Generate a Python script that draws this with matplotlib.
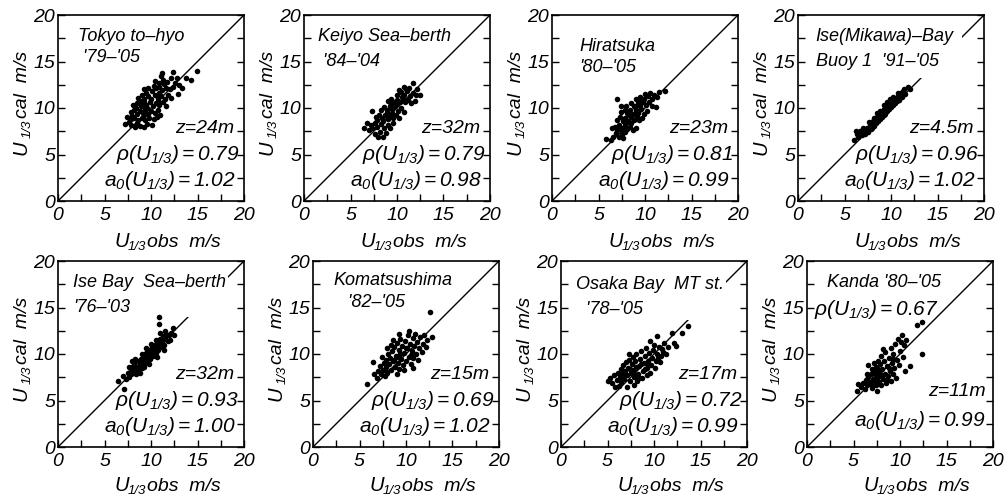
import numpy as np
import matplotlib
matplotlib.use("Agg")
import matplotlib.pyplot as plt
from matplotlib.ticker import MultipleLocator

plt.rcParams["font.family"] = ["Liberation Sans", "DejaVu Sans"]
plt.rcParams["font.style"] = "italic"
plt.rcParams["mathtext.fontset"] = "custom"
plt.rcParams["mathtext.rm"] = "Liberation Sans:italic"
plt.rcParams["mathtext.it"] = "Liberation Sans:italic"
plt.rcParams["mathtext.sf"] = "Liberation Sans:italic"

# station info
stations = ["Tokyo to\u2013hyo", "Keiyo Sea\u2013berth", "Hiratsuka", "Ise(Mikawa)\u2013Bay",
            "Ise Bay  Sea\u2013berth", "Komatsushima", "Osaka Bay  MT st.", "Kanda '80\u2013'05"]
periods = [" '79\u2013'05", " '84\u2013'04", "'80\u2013'05", "Buoy 1  '91\u2013'05",
           "'76\u2013'03", "   '82\u2013'05", "  '78\u2013'05", None]
heights = ["24", "32", "23", "4.5", "32", "15", "17", "11"]
rho = [0.79, 0.79, 0.81, 0.96, 0.93, 0.69, 0.72, 0.67]
a0 = [1.02, 0.98, 0.99, 1.02, 1.00, 1.02, 0.99, 0.99]

# (U1/3 obs, U1/3 cal) pairs, m/s
tokyo = [(7.2,8.3),(7.9,8.2),(8.3,8.0),(8.8,8.1),(9.2,8.0),(9.6,8.3),(10.1,8.2),(8.5,8.4),(7.6,8.5),
         (7.8,8.8),(8.2,8.9),(8.6,8.7),(9.0,8.9),(9.4,8.7),(9.8,8.9),(10.3,8.8),(8.0,9.1),(9.2,9.2),(10.6,9.0),
         (7.9,9.6),(8.2,9.8),(8.5,9.4),(8.8,9.7),(9.1,9.5),(9.4,9.9),(9.7,9.4),(10.0,9.7),(10.4,9.5),(10.8,9.8),
         (11.0,9.3),(8.4,10.0),(9.6,10.0),(8.1,10.3),(8.5,10.5),(8.9,10.2),(9.2,10.6),(9.5,10.3),(9.9,10.6),
         (10.2,10.2),(10.5,10.5),(10.9,10.3),(11.3,10.6),(11.6,10.2),(8.8,10.7),(10.7,10.8),(8.6,11.1),(9.0,11.4),
         (9.3,11.0),(9.7,11.3),(10.0,11.0),(10.4,11.4),(10.7,11.1),(11.1,11.3),(11.5,11.0),(11.8,11.4),(12.1,11.1),
         (9.5,11.6),(10.9,11.6),(9.2,12.0),(9.7,12.2),(10.1,11.8),(10.5,12.1),(10.9,12.3),(11.2,11.9),(11.6,12.2),
         (12.0,12.0),(12.4,12.3),(10.3,12.4),(11.4,12.6),(10.4,12.9),(10.9,12.7),(11.3,13.0),(11.7,12.8),
         (12.1,13.2),(12.6,12.7),(13.0,12.5),(11.1,13.4),(12.8,13.2),(11.2,13.8),(12.4,13.9),(13.8,13.2),
         (14.3,13.0),(14.9,14.0),(13.3,12.2),(7.4,9.0),(12.9,11.5)]
keiyo = [(7.0,7.6),(7.6,7.2),(8.0,6.9),(8.5,6.9),(8.2,7.4),(7.3,7.8),(6.4,7.8),(8.8,7.3),(7.2,8.2),(7.6,8.4),
         (7.9,8.0),(8.3,8.3),(8.6,7.9),(9.0,8.2),(9.3,7.8),(7.8,8.7),(8.5,8.6),(9.6,8.4),(7.7,9.0),(8.1,9.2),
         (8.4,8.9),(8.7,9.3),(9.0,8.8),(9.3,9.1),(9.6,8.9),(9.9,9.3),(10.2,8.9),(8.9,9.5),(9.5,9.5),(8.3,9.8),
         (8.6,10.1),(8.9,9.8),(9.2,10.2),(9.5,9.9),(9.8,10.2),(10.1,9.7),(10.4,10.0),(10.7,9.6),(9.4,10.4),
         (10.0,10.4),(9.0,10.7),(9.4,11.0),(9.7,10.6),(10.0,10.9),(10.3,10.6),(10.6,11.0),(10.9,10.6),(11.2,10.9),
         (11.5,10.5),(10.5,11.2),(10.0,11.4),(10.4,11.7),(10.8,11.4),(11.1,11.8),(11.4,11.3),(11.7,11.6),
         (12.0,11.4),(11.0,12.0),(10.2,11.9),(11.3,12.2),(11.7,12.7),(12.1,12.0),(10.7,12.3),(7.3,9.7),
         (12.5,11.4),(6.8,8.4),(11.9,10.8)]
hiratsuka = [(5.8,6.7),(6.3,6.6),(6.6,6.9),(6.9,7.3),(7.2,6.9),(7.5,7.2),(7.0,7.7),(7.4,7.6),(7.8,7.4),(7.6,6.8),
             (6.8,8.0),(7.2,8.2),(7.5,7.9),(7.8,8.1),(8.1,7.7),(8.4,8.0),(8.7,7.6),(9.0,7.9),(7.9,8.4),(8.5,8.4),
             (7.0,8.7),(7.3,9.0),(7.6,8.6),(7.9,8.9),(8.2,8.6),(8.5,9.0),(8.8,8.7),(9.1,9.1),(9.4,8.7),(9.7,8.9),
             (8.3,9.2),(9.0,9.4),(7.4,9.6),(7.8,9.8),(8.1,9.5),(8.4,9.8),(8.7,9.4),(9.0,9.8),(9.3,9.5),(9.6,9.9),
             (9.9,9.4),(10.2,9.7),(8.9,10.1),(8.0,10.2),(8.5,10.5),(8.8,10.2),(9.2,10.5),(9.5,10.2),(9.8,10.6),
             (10.1,10.3),(10.4,10.6),(10.7,10.2),(9.6,10.8),(9.0,11.0),(9.5,11.2),(9.9,11.0),(10.3,11.3),(10.7,11.0),
             (11.0,11.4),(10.5,11.6),(11.3,11.2),(10.0,11.5),(11.5,11.7),(7.0,11.0),(12.1,11.8),(11.2,10.1),
             (6.5,7.8),(7.4,10.2)]
mikawa = [(6.0,6.6),(6.3,7.2),(6.5,6.9),(6.7,7.5),(6.9,7.1),(7.1,7.6),(7.2,7.2),(7.4,7.8),(7.5,7.4),(7.7,8.1),
          (7.8,7.7),(7.9,8.3),(8.0,7.9),(8.1,8.6),(8.2,8.1),(8.3,8.8),(8.4,8.4),(8.5,9.0),(8.6,8.6),(8.7,9.2),
          (8.8,8.8),(8.9,9.4),(9.0,9.0),(9.1,9.6),(9.2,9.2),(9.3,9.9),(9.4,9.4),(9.5,10.1),(9.6,9.7),(9.7,10.3),
          (9.8,9.9),(9.9,10.5),(10.0,10.1),(10.1,10.7),(10.2,10.3),(10.3,10.9),(10.4,10.5),(10.5,11.1),(10.6,10.8),
          (10.8,11.3),(10.9,10.9),(11.0,11.6),(11.2,11.2),(11.3,11.8),(11.5,11.5),(11.8,12.3),(11.4,12.0),
          (9.6,10.6),(8.2,8.9),(7.0,7.8),(6.2,7.5),(8.8,9.7),(10.2,11.2),(9.2,10.3),(7.6,8.5),(10.7,11.6),
          (9.9,11.0),(8.5,9.5),(12.0,12.0)]
isebay = [(6.5,7.1),(7.1,6.2),(7.0,7.6),(7.3,7.3),(7.5,8.0),(7.6,7.5),(7.8,8.3),(7.9,7.8),(8.0,8.6),(8.1,8.0),
          (8.2,8.9),(8.3,8.3),(8.4,7.8),(8.5,8.6),(8.6,9.2),(8.7,8.2),(8.8,8.9),(8.9,9.5),(9.0,8.5),(9.1,9.2),
          (9.2,9.8),(9.3,8.9),(9.4,9.5),(9.5,10.1),(9.6,9.2),(9.7,9.8),(9.8,10.4),(9.9,9.5),(10.0,10.1),(10.1,10.7),
          (10.2,9.8),(10.3,10.4),(10.4,11.0),(10.5,10.1),(10.6,10.7),(10.7,11.3),(10.8,10.4),(10.9,11.0),
          (11.0,11.6),(11.1,10.7),(11.2,11.3),(11.3,11.9),(11.4,11.0),(11.5,11.6),(11.6,12.2),(11.8,11.4),
          (11.9,12.0),(12.1,12.3),(12.4,12.8),(12.5,12.0),(10.9,14.0),(10.9,13.2),(11.5,12.5),(8.0,9.2),(8.3,9.5),
          (9.0,10.0),(9.5,10.6),(10.0,11.1),(10.5,11.5),(9.8,8.9),(10.6,9.7),(11.4,10.4),(8.8,8.0),(7.6,8.6),
          (9.2,8.6),(12.0,11.5),(11.0,12.3)]
komatsu = [(5.8,6.8),(6.4,9.1),(6.6,7.8),(6.9,7.4),(7.0,8.2),(7.2,8.7),(7.3,7.9),(7.5,8.3),(7.6,9.0),(7.7,7.6),
           (7.8,8.6),(7.9,9.4),(8.0,8.0),(8.1,10.0),(8.2,8.9),(8.3,9.6),(8.4,8.3),(8.5,10.3),(8.6,9.2),(8.7,10.8),
           (8.8,8.6),(8.9,9.8),(9.0,11.2),(9.1,9.0),(9.2,10.4),(9.3,8.4),(9.4,11.6),(9.5,9.5),(9.6,10.9),(9.7,8.8),
           (9.8,10.1),(9.9,11.4),(10.0,9.3),(10.1,10.6),(10.2,12.0),(10.3,9.7),(10.4,11.1),(10.5,8.9),(10.6,10.3),
           (10.7,11.7),(10.8,9.6),(10.9,10.9),(11.0,12.1),(11.1,10.0),(11.2,11.3),(11.3,9.4),(11.4,10.6),
           (11.5,11.8),(11.7,10.2),(11.8,11.1),(11.9,12.0),(12.1,10.8),(12.3,11.5),(10.3,12.5),(12.6,14.5),
           (12.8,11.8),(8.0,10.6),(8.4,11.0),(7.4,9.7),(8.6,11.5),(9.3,12.1),(9.0,7.9),(9.8,8.3),(10.8,8.5),
           (7.9,8.2),(8.7,9.4),(9.4,10.0),(10.0,10.6),(9.1,9.7),(10.5,9.9)]
osaka = [(5.1,7.1),(5.3,7.4),(5.5,6.9),(5.8,6.5),(5.7,7.7),(6.0,7.2),(6.1,8.0),(6.2,6.6),(6.3,7.5),(6.4,8.4),
         (6.5,7.0),(6.6,7.9),(6.7,8.8),(6.8,7.3),(6.9,8.2),(7.0,9.1),(7.1,6.4),(7.1,7.7),(7.2,8.5),(7.3,9.4),
         (7.4,7.1),(7.5,8.0),(7.6,8.9),(7.7,9.7),(7.8,6.7),(7.8,7.5),(7.9,8.3),(8.0,9.2),(8.1,10.0),(8.2,7.1),
         (8.3,7.9),(8.4,8.7),(8.5,9.5),(8.6,10.3),(8.7,7.4),(8.8,8.2),(8.9,9.0),(9.0,9.8),(9.1,10.6),(9.2,7.7),
         (9.3,8.5),(9.4,9.3),(9.5,10.1),(9.6,8.0),(9.7,8.8),(9.8,9.6),(9.9,10.4),(10.0,11.0),(10.1,8.5),
         (10.2,9.2),(10.3,10.0),(10.3,11.9),(10.5,10.7),(10.6,9.1),(10.8,9.8),(10.9,10.5),(11.1,11.2),(11.3,10.0),
         (11.5,10.8),(11.9,12.3),(12.1,11.2),(12.4,10.9),(13.0,12.3),(13.7,13.0),(6.9,7.7),(7.4,8.4),(8.1,8.6),
         (8.6,8.9),(9.0,8.4),(9.4,8.9),(7.7,7.8),(8.4,7.4),(6.6,8.3),(10.4,9.6),(11.0,10.2),(7.3,10.0),(9.6,11.4)]
kanda = [(5.4,6.0),(5.5,6.8),(5.8,6.5),(6.0,6.9),(6.2,6.2),(6.3,7.2),(6.5,6.7),(6.6,7.5),(6.6,8.8),(6.8,7.0),
         (6.9,7.8),(7.0,6.3),(7.0,8.4),(7.1,7.3),(7.2,9.0),(7.3,7.8),(7.4,6.7),(7.4,8.6),(7.5,6.0),(7.5,7.4),
         (7.6,9.3),(7.7,8.1),(7.7,7.0),(7.8,8.9),(7.9,7.6),(8.0,9.8),(8.0,6.7),(8.1,8.4),(8.2,7.3),(8.3,9.2),
         (8.4,7.9),(8.4,10.2),(8.5,6.9),(8.6,8.7),(8.7,7.6),(8.8,9.6),(8.9,8.2),(9.0,10.6),(9.0,7.1),(9.1,9.0),
         (9.2,7.8),(9.3,10.0),(9.4,8.5),(9.5,11.1),(9.6,7.4),(9.7,9.4),(9.8,11.6),(9.9,8.8),(10.0,10.3),
         (10.1,11.3),(10.2,12.0),(10.3,9.7),(10.4,11.0),(10.5,8.2),(10.6,11.5),(11.1,8.7),(11.8,13.1),(12.4,13.4),
         (12.4,10.0),(8.2,10.5),(7.2,8.2),(6.4,7.9),(8.6,7.2),(7.9,7.9),(7.3,7.1),(8.1,7.6),(7.6,8.4),(6.9,6.8),
         (9.2,9.5),(8.8,8.5)]
points = [tokyo, keiyo, hiratsuka, mikawa, isebay, komatsu, osaka, kanda]

# axes boxes in pixels (left, top), all 186 px square
W, H = 1007, 496
boxes = [(58, 15), (304, 15), (552, 15), (798, 15),
         (58, 261), (313, 261), (561, 261), (807, 261)]
# name block: left x, top y, line spacing, white box pad (None = no box)
name_pos = [(2.15, 18.55, 1.29, None), (1.5, 18.6, 1.58, None), (2.9, 17.5, 1.25, None),
            (1.9, 18.55, 1.55, 0.45), (1.6, 18.55, 1.55, 0.1), (2.2, 18.8, 1.36, None),
            (1.6, 18.35, 1.6, 0.1), (2.15, 18.55, 1.3, None)]

fig = plt.figure(figsize=(W / 100, H / 100), dpi=100)
for i in range(8):
    left, top = boxes[i]
    ax = fig.add_axes([left / W, (H - top - 186) / H, 186 / W, 186 / H])
    ax.set_xlim(0, 20)
    ax.set_ylim(0, 20)
    ax.plot([0, 20], [0, 20], "-", color="black", lw=1.0, zorder=1)
    xy = np.array(points[i])
    ax.scatter(xy[:, 0], xy[:, 1], s=16, color="black", linewidths=0, zorder=4)

    ax.xaxis.set_major_locator(MultipleLocator(5))
    ax.yaxis.set_major_locator(MultipleLocator(5))
    ax.xaxis.set_minor_locator(MultipleLocator(2.5))
    ax.yaxis.set_minor_locator(MultipleLocator(2.5))
    ax.tick_params(which="both", direction="in", length=5, width=1, right=True, top=False)
    ax.tick_params(axis="x", labelsize=14, pad=4)
    ax.tick_params(axis="y", labelsize=14, pad=2)
    for s in ax.spines.values():
        s.set_linewidth(1.2)

    # axis labels: U, subscript 1/3, then units
    yb = -0.245 if i < 4 else -0.235
    ax.text(0.305, yb, "U", transform=ax.transAxes, fontsize=14.5, ha="left", va="baseline")
    ax.text(0.376, yb - 0.018, "1/3", transform=ax.transAxes, fontsize=9.5, ha="left", va="baseline")
    ax.text(0.478, yb, "obs  m/s", transform=ax.transAxes, fontsize=14, ha="left", va="baseline")
    ax.text(-0.167, 0.245, "U", transform=ax.transAxes, fontsize=14.5, rotation=90,
            rotation_mode="anchor", ha="left", va="baseline")
    ax.text(-0.149, 0.338, "1/3", transform=ax.transAxes, fontsize=9.5, rotation=90,
            rotation_mode="anchor", ha="left", va="baseline")
    ax.text(-0.167, 0.445, "cal  m/s", transform=ax.transAxes, fontsize=14, rotation=90,
            rotation_mode="anchor", ha="left", va="baseline")

    nx, ny, ls, pad = name_pos[i]
    label = stations[i] if periods[i] is None else stations[i] + "\n" + periods[i]
    box = None if pad is None else dict(boxstyle=f"square,pad={pad}", fc="white", ec="none")
    ax.text(nx, ny, label, fontsize=13, ha="left", va="top", linespacing=ls, zorder=3, bbox=box)

    rho_txt = rf"$\rho(U_{{1/3}}){{=}}{rho[i]:.2f}$"
    a0_txt = rf"$a_0(U_{{1/3}}){{=}}{a0[i]:.2f}$"
    if i == 7:
        ax.text(0.8, 14.8, rho_txt, fontsize=15, ha="left", va="center")
        ax.text(19.2, 6.0, f"z={heights[i]}m", fontsize=14, ha="right", va="center")
        ax.text(19.2, 2.8, a0_txt, fontsize=15, ha="right", va="center")
    else:
        ax.text(18.9, 7.8, f"z={heights[i]}m", fontsize=14, ha="right", va="center")
        ax.text(19.5, 5.0, rho_txt, fontsize=15, ha="right", va="center")
        ax.text(19.1, 2.25, a0_txt, fontsize=15, ha="right", va="center")

fig.savefig("out.png", dpi=100)
